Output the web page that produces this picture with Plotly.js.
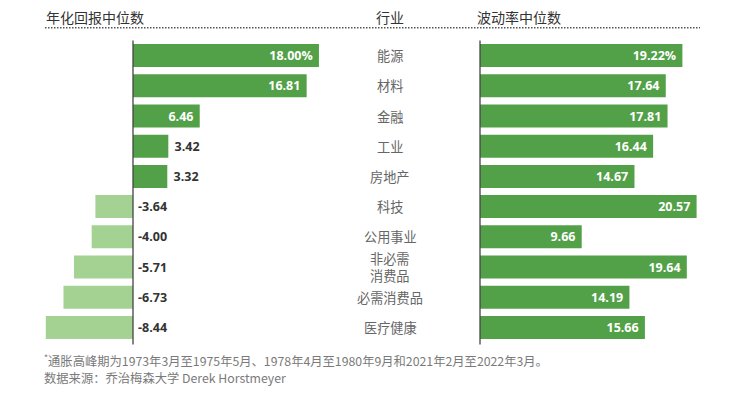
<!DOCTYPE html>
<html>
<head>
<meta charset="utf-8">
<script src="https://cdn.plot.ly/plotly-3.0.1.min.js"></script>
<style>html,body{margin:0;padding:0;background:#fff;}#chart{width:755px;height:395px;}</style>
</head>
<body>
<div id="chart"></div>
<script>
const sectors = ['能源','材料','金融','工业','房地产','科技','公用事业','非必需<br>消费品','必需消费品','医疗健康'];
const returns = [18.00, 16.81, 6.46, 3.42, 3.32, -3.64, -4.00, -5.71, -6.73, -8.44];
const volatility = [19.22, 17.64, 17.81, 16.44, 14.67, 20.57, 9.66, 19.64, 14.19, 15.66];
const headerLeft = '年化回报中位数';
const headerMid = '行业';
const headerRight = '波动率中位数';
const footnote1 = '<sup>*</sup>通胀高峰期为1973年3月至1975年5月、1978年4月至1980年9月和2021年2月至2022年3月。';
const footnote2 = '数据来源：乔治梅森大学 Derek Horstmeyer';

const W = 755, H = 395;
const FONT = 'Open Sans, Noto Sans CJK SC, sans-serif';
const CJK = 'Noto Sans CJK SC, sans-serif';
const DARK = '#52a047';
const LIGHT = '#a4d293';
const NB = '\u00a0';

const fmt = (v, i) => v.toFixed(2) + (i === 0 ? '%' : '');

const retText = returns.map((v, i) => v >= 5 ? fmt(v, i) + NB : (v >= 0 ? NB + fmt(v, i) : NB));
const retPos = returns.map(v => v < 0 ? 'none' : (v >= 5 ? 'inside' : 'outside'));

const traces = [
  {
    type: 'bar', orientation: 'h', x: returns, y: sectors, xaxis: 'x', yaxis: 'y',
    marker: {color: returns.map(v => v >= 0 ? DARK : LIGHT), line: {width: 0}},
    text: retText, textposition: retPos, insidetextanchor: 'end',
    insidetextfont: {color: '#ffffff', size: 12.5, family: FONT, weight: 'bold'},
    outsidetextfont: {color: '#333333', size: 12.5, family: FONT, weight: 'bold'},
    constraintext: 'none', cliponaxis: false, hoverinfo: 'skip'
  },
  {
    type: 'bar', orientation: 'h', x: volatility, y: sectors, xaxis: 'x2', yaxis: 'y',
    marker: {color: DARK, line: {width: 0}},
    text: volatility.map((v, i) => fmt(v, i) + NB), textposition: 'inside', insidetextanchor: 'end',
    insidetextfont: {color: '#ffffff', size: 12.5, family: FONT, weight: 'bold'},
    constraintext: 'none', cliponaxis: false, hoverinfo: 'skip'
  }
];

// pixel geometry
const zeroL = 133, pxL = 10.33, rangeL = [-10, 19];
const zeroR = 480, pxR = 10.53, rangeR = [-0.2, 22];
const yTop = 40.5, yBot = 342.5;
const px2fx = p => p / W;
const px2fy = p => (H - p) / H;

const layout = {
  width: W, height: H,
  margin: {l: 0, r: 0, t: 0, b: 0, pad: 0},
  paper_bgcolor: '#ffffff', plot_bgcolor: 'rgba(0,0,0,0)',
  showlegend: false, bargap: 0.24,
  font: {family: FONT, color: '#333'},
  xaxis: {
    domain: [px2fx(zeroL + rangeL[0] * pxL), px2fx(zeroL + rangeL[1] * pxL)],
    range: rangeL, showgrid: false, zeroline: false, showticklabels: false, ticks: '', fixedrange: true
  },
  xaxis2: {
    domain: [px2fx(zeroR + rangeR[0] * pxR), px2fx(zeroR + rangeR[1] * pxR)],
    range: rangeR, anchor: 'y', showgrid: false, zeroline: false, showticklabels: false, ticks: '', fixedrange: true
  },
  yaxis: {
    domain: [px2fy(yBot), px2fy(yTop)], autorange: 'reversed',
    showgrid: false, zeroline: false, showticklabels: false, ticks: '', fixedrange: true
  },
  shapes: [
    {type: 'line', xref: 'x', x0: 0, x1: 0, yref: 'paper', y0: px2fy(yTop), y1: px2fy(344.5), line: {color: '#444', width: 1.3}, layer: 'above'},
    {type: 'line', xref: 'x2', x0: 0, x1: 0, yref: 'paper', y0: px2fy(yTop), y1: px2fy(344.5), line: {color: '#444', width: 1.3}, layer: 'above'},
    {type: 'line', xref: 'paper', x0: px2fx(45), x1: px2fx(700), yref: 'paper', y0: px2fy(27.7), y1: px2fy(27.7), line: {color: '#555', width: 1.5, dash: '1.5px,1.5px'}}
  ],
  annotations: []
};

// headers
[[headerLeft, 45], [headerMid, 375], [headerRight, 476]].forEach(([t, x]) => {
  layout.annotations.push({text: t, xref: 'paper', yref: 'paper', x: px2fx(x), y: px2fy(17), xanchor: 'left', yanchor: 'middle', showarrow: false, borderpad: 0, font: {family: CJK, size: 14, color: '#333'}});
});

// category labels
sectors.forEach(s => {
  layout.annotations.push({text: s, xref: 'paper', yref: 'y', x: px2fx(390), y: s, xanchor: 'center', yanchor: 'middle', align: 'center', showarrow: false, borderpad: 0, font: {family: CJK, size: 13.2, color: '#666'}});
});

// negative return labels beside the zero line
returns.forEach((v, i) => {
  if (v < 0) {
    layout.annotations.push({text: fmt(v, i), xref: 'x', yref: 'y', x: 0, y: sectors[i], xanchor: 'left', yanchor: 'middle', xshift: 4, showarrow: false, borderpad: 0, font: {family: FONT, size: 12.5, color: '#333', weight: 'bold'}});
  }
});

// footnotes
[[footnote1, 360.5], [footnote2, 378]].forEach(([t, y]) => {
  layout.annotations.push({text: t, xref: 'paper', yref: 'paper', x: px2fx(43), y: px2fy(y), xanchor: 'left', yanchor: 'middle', showarrow: false, borderpad: 0, font: {family: CJK, size: 12.3, color: '#7a7a7a'}});
});

Plotly.newPlot('chart', traces, layout, {displayModeBar: false, staticPlot: true});
</script>
</body>
</html>
